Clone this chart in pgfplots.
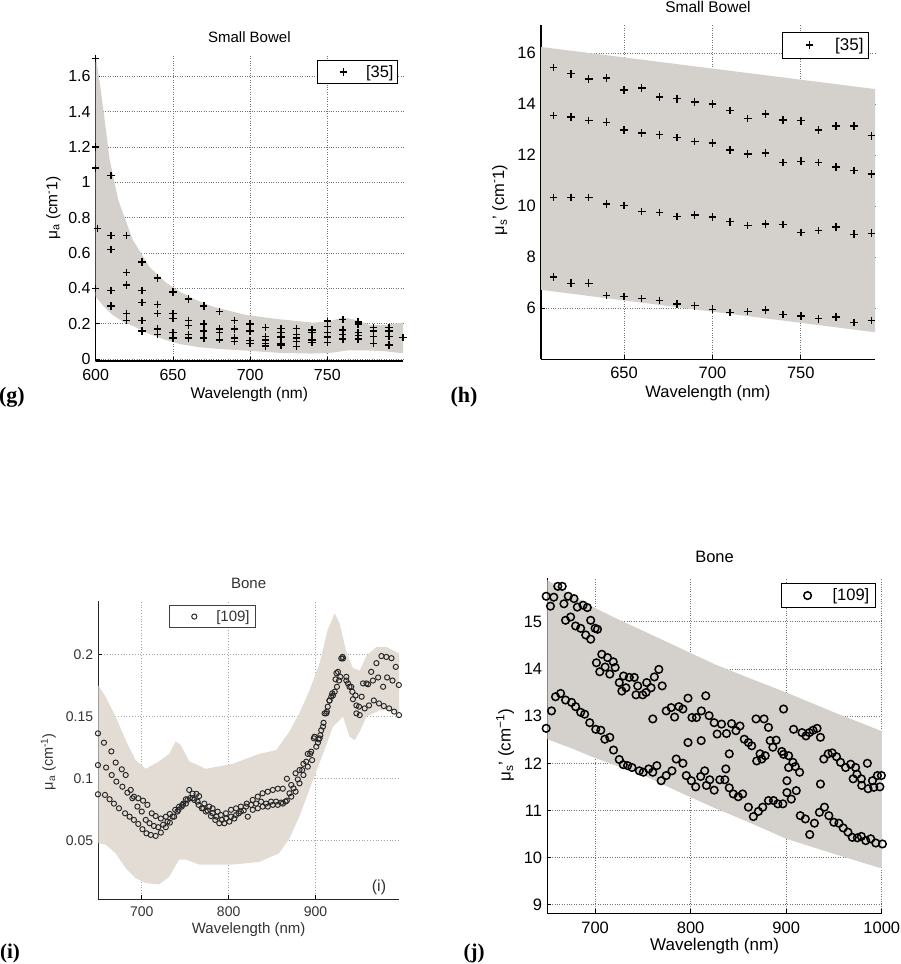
\documentclass[border=0pt]{standalone}
\usepackage{pgfplots}
\pgfplotsset{compat=1.18}
\usepackage{fontspec}
\setmainfont{Liberation Sans}
\newfontfamily\timesfont{Liberation Serif}

\definecolor{band}{RGB}{212,208,203}
\definecolor{bandi}{RGB}{226,220,213}
\newcommand\fs[1]{\fontsize{#1}{#1}\selectfont}

\pgfplotsset{
  layers/gridbelow/.define layer set={axis background,axis grid,main,axis ticks,axis lines,axis tick labels,axis descriptions,axis foreground}{},
  panel/.style={
    scale only axis, set layers=gridbelow, anchor=south west,
    axis x line*=bottom, axis y line*=left,
    axis line style={line width=1.3pt,-},
    tick align=inside, major tick length=4pt,
    tick style={black, line width=0.8pt},
    xmajorgrids, ymajorgrids,
    major grid style={dotted, line width=0.8pt, black!55},
    clip=false,
    title style={at={(axis description cs:0.5,1)}, anchor=base, inner sep=0pt, yshift=7pt},
    xlabel style={at={(axis description cs:0.5,0)}, anchor=base, inner sep=0pt},
    ylabel style={anchor=center, inner sep=0pt},
    xticklabel style={anchor=base, inner sep=0pt},
    yticklabel style={anchor=east, inner sep=0pt, xshift=-5pt},
    legend cell align=left,
    legend style={anchor=north east, draw=black, line width=1pt, fill=white,
      inner ysep=0pt, nodes={inner xsep=0pt, inner ysep=5pt}, column sep=0pt},
  },
}

\begin{document}
\begin{tikzpicture}

% ---------------- (g) small bowel, mu_a
\begin{axis}[panel, at={(95.7pt,-361pt)}, width=307.3pt, height=306pt,
  xmin=600, xmax=799, ymin=-0.01, ymax=1.72,
  xtick={600,650,700,750}, xticklabels={600,650,700,750},
  ytick={0,0.2,0.4,0.6,0.8,1,1.2,1.4,1.6},
  yticklabels={0,0.2,0.4,0.6,0.8,1,1.2,1.4,1.6},
  ticklabel style={font=\fs{16}}, xticklabel style={yshift=-19pt},
  title={Small Bowel}, title style={font=\fs{15}},
  xlabel={Wavelength (nm)}, xlabel style={font=\fs{15.5}, yshift=-37pt},
  ylabel={μ\textsubscript{a} (cm\textsuperscript{-}1)},
  ylabel style={font=\fs{15.5}, at={(axis description cs:-0.138,0.5)}},
  legend style={at={(axis description cs:0.984,0.984)}, inner xsep=4pt, font=\fs{16.5}},
  legend image code/.code={\path[draw=none] (0pt,0pt) (44.7pt,0pt);
    \draw[#1, only marks] plot coordinates {(22pt,0pt)};},
]
\addplot[fill=band, draw=none, forget plot] coordinates {
 (600,1.72) (602.8,1.55) (605,1.41) (609,1.13) (614.6,0.90) (624,0.675) (635,0.52)
 (646,0.43) (654.5,0.382) (665,0.335) (676,0.297) (697.5,0.25) (719,0.226)
 (740.6,0.207) (751,0.213) (760,0.237) (768.6,0.222) (777,0.194) (788,0.194) (799,0.207)
 (799,0.034) (786,0.046) (775,0.05) (763,0.05) (752,0.036) (740,0.032) (719,0.036)
 (697,0.049) (680,0.058) (667,0.068) (655,0.085) (645,0.11) (634,0.145) (625,0.185)
 (618,0.21) (611,0.25) (605,0.30) (600,0.354)} -- cycle;
\addplot[only marks, mark=+, mark size=3.7pt, black, line width=1.45pt] coordinates {
 (600,1.70) (600,1.20) (600,1.08) (601,0.74) (600,0.40)
 (610,1.04) (610,0.70) (610,0.62) (610,0.39) (610,0.30)
 (620,0.70) (620,0.49) (620,0.42) (620,0.26) (620,0.22)
 (630,0.55) (630,0.39) (630,0.32) (630,0.22) (630,0.16)
 (640,0.46) (640,0.31) (640,0.26) (640,0.17) (640,0.14)
 (650,0.38) (650,0.26) (650,0.23) (650,0.15) (650,0.12)
 (660,0.34) (660,0.22) (660,0.19) (660,0.14) (660,0.12)
 (670,0.30) (670,0.20) (670,0.16) (670,0.12)
 (680,0.27) (680,0.17) (680,0.15) (680,0.11)
 (690,0.22) (690,0.17) (690,0.12) (690,0.10)
 (700,0.20) (700,0.16) (700,0.105) (700,0.09)
 (710,0.18) (710,0.13) (710,0.11) (710,0.09) (710,0.075)
 (720,0.175) (720,0.15) (720,0.125) (720,0.09) (720,0.08)
 (730,0.175) (730,0.14) (730,0.12) (730,0.10) (730,0.072)
 (740,0.165) (740,0.15) (740,0.11) (740,0.096)
 (750,0.215) (750,0.185) (750,0.15) (750,0.125) (750,0.096)
 (760,0.225) (760,0.165) (760,0.14) (760,0.115)
 (770,0.21) (770,0.20) (770,0.15) (770,0.135) (770,0.115)
 (780,0.18) (780,0.16) (780,0.13) (780,0.09)
 (790,0.18) (790,0.16) (790,0.13) (790,0.08)
 (799,0.122)};
\addlegendentry{[35]}
\end{axis}

% ---------------- (h) small bowel, mu_s'
\begin{axis}[panel, at={(541pt,-359.3pt)}, width=334pt, height=334.3pt,
  xmin=603, xmax=792, ymin=4, ymax=17.1,
  xtick={650,700,750}, xticklabels={650,700,750},
  ytick={6,8,10,12,14,16}, yticklabels={6,8,10,12,14,16},
  ticklabel style={font=\fs{16.5}}, xticklabel style={yshift=-19pt},
  title={Small Bowel}, title style={font=\fs{15.5}, yshift=-0.5pt},
  xlabel={Wavelength (nm)}, xlabel style={font=\fs{16.5}, yshift=-38.3pt},
  ylabel={μ\textsubscript{s}' (cm\textsuperscript{-}1)},
  ylabel style={font=\fs{16.5}, at={(axis description cs:-0.123,0.477)}},
  legend style={at={(axis description cs:0.983,0.980)}, inner xsep=5.3pt, font=\fs{17},
    nodes={inner ysep=6pt}},
  legend image code/.code={\path[draw=none] (0pt,0pt) (47pt,0pt);
    \draw[#1, only marks] plot coordinates {(21.3pt,0pt)};},
]
\addplot[fill=band, draw=none, forget plot] coordinates {
 (603,16.24) (792,14.59) (792,5.06) (603,6.72)} -- cycle;
\addplot[only marks, mark=+, mark size=3.8pt, black, line width=1.45pt] coordinates {
 (610,15.44) (620,15.19) (630,14.99) (640,15.02) (650,14.56) (660,14.64) (670,14.27)
 (680,14.21) (690,14.08) (700,14.00) (710,13.75) (720,13.44) (730,13.62) (740,13.37)
 (750,13.35) (760,12.99) (770,13.15) (780,13.15) (790,12.76)
 (610,13.56) (620,13.49) (630,13.36) (640,13.29) (650,12.99) (660,12.86) (670,12.80)
 (680,12.69) (690,12.54) (700,12.47) (710,12.21) (720,12.04) (730,12.08) (740,11.71)
 (750,11.76) (760,11.71) (770,11.53) (780,11.40) (790,11.27)
 (610,10.34) (620,10.34) (630,10.34) (640,10.09) (650,10.03) (660,9.79) (670,9.75)
 (680,9.59) (690,9.66) (700,9.57) (710,9.39) (720,9.24) (730,9.31) (740,9.28)
 (750,8.97) (760,9.05) (770,9.18) (780,8.90) (790,8.94)
 (610,7.22) (620,6.98) (630,6.98) (640,6.50) (650,6.46) (660,6.38) (670,6.31)
 (680,6.16) (690,6.10) (700,5.96) (710,5.84) (720,5.87) (730,5.93) (740,5.76)
 (750,5.70) (760,5.59) (770,5.65) (780,5.45) (790,5.52)};
\addlegendentry{[35]}
\end{axis}

% ---------------- (i) bone, mu_a
\begin{axis}[panel, at={(98.3pt,-899.3pt)}, width=300.7pt, height=298.3pt,
  xmin=650, xmax=996, ymin=0.003, ymax=0.243,
  xtick={700,800,900}, xticklabels={700,800,900},
  ytick={0.05,0.1,0.15,0.2}, yticklabels={0.05,0.1,0.15,0.2},
  ticklabel style={font=\fs{14}, black!80}, xticklabel style={yshift=-17.4pt},
  title={Bone}, title style={font=\fs{15}, black!80},
  xlabel={Wavelength (nm)}, xlabel style={font=\fs{15}, black!80, yshift=-34pt},
  ylabel={μ\textsubscript{a} (cm\textsuperscript{-1})},
  ylabel style={font=\fs{14.5}, black!80, at={(axis description cs:-0.166,0.461)}},
  major grid style={dotted, line width=0.8pt, black!35},
  axis line style={line width=1.1pt, black!85},
  legend style={at={(axis description cs:0.525,0.987)}, inner xsep=6pt, font=\fs{15},
    draw=black!75, text=black!80},
  legend image code/.code={\path[draw=none] (0pt,0pt) (41pt,0pt);
    \draw[#1, only marks] plot coordinates {(19pt,0pt)};},
]
\addplot[fill=bandi, draw=none, forget plot] coordinates {
 (650,0.175) (658.5,0.166) (670,0.150) (681.5,0.131) (693,0.115) (704.6,0.108)
 (720,0.114) (731.5,0.120) (739,0.130) (745,0.127) (754.6,0.114) (773.8,0.108)
 (804.6,0.112) (835,0.120) (854.6,0.123) (870,0.138) (881.5,0.153) (893,0.171)
 (904.6,0.193) (914,0.220) (922,0.233) (927.7,0.225) (935,0.203) (943,0.189)
 (950.8,0.187) (958.5,0.199) (970,0.206) (981.5,0.206) (996,0.201)
 (996,0.153) (985,0.155) (973.8,0.155) (958.5,0.150) (950.8,0.138) (945,0.131)
 (939,0.134) (931.5,0.150) (920,0.142) (908.5,0.120) (897,0.099) (881.5,0.070)
 (870,0.052) (858,0.040) (835,0.033) (804.6,0.031) (781.5,0.031) (766,0.031)
 (750.8,0.035) (743,0.035) (731.5,0.021) (720,0.015) (704.6,0.016) (693,0.020)
 (681.5,0.028) (670,0.040) (658.5,0.047) (650,0.048)} -- cycle;
\addplot[only marks, mark=o, mark size=2.6pt, black!85, line width=0.95pt] coordinates {
 (649.6,0.1365) (656.5,0.129) (665,0.122) (670,0.113) (677,0.1076) (681.5,0.103)
 (687.3,0.091) (691,0.0856) (696,0.0843) (701.5,0.0824) (706.5,0.079) (711.5,0.0722)
 (716,0.070) (722,0.068) (727.7,0.0695) (732.3,0.0717) (738.5,0.075) (743,0.0776)
 (747.7,0.080) (750.8,0.0835) (754.6,0.091) (758.5,0.088) (763,0.0878) (766,0.086)
 (772,0.080) (777.7,0.0776) (781.5,0.0762) (787.3,0.0735) (791,0.0708) (796.9,0.0722)
 (802.7,0.075) (808.5,0.0762) (814,0.0776) (820.8,0.080) (827.7,0.083) (833.5,0.0856)
 (839,0.0883) (845,0.0896) (850.8,0.091) (856.5,0.092) (862.3,0.092) (867,0.100)
 (872,0.095) (877,0.1044) (881.5,0.107) (886,0.112) (891,0.120) (895,0.1218)
 (898.8,0.1338) (903.5,0.1317) (906.5,0.139) (910.4,0.1526) (914,0.158) (918,0.166)
 (922,0.170) (924,0.185) (927,0.179) (931,0.198) (935.4,0.179) (939,0.174)
 (943,0.164) (947,0.159) (953,0.166) (958.5,0.1767) (964,0.186) (970,0.193)
 (975.8,0.1987) (981.5,0.198) (987.3,0.197) (992.3,0.190)
 (649.6,0.111) (659,0.109) (665.4,0.103) (670.8,0.0977) (677.7,0.0936) (683.5,0.0888)
 (689.2,0.0843) (695,0.0776) (700,0.0736) (704.6,0.0669) (709,0.0642) (714,0.062)
 (719,0.061) (724.6,0.063) (729.6,0.0655) (735.4,0.0695) (741,0.0736) (746,0.0776)
 (750.8,0.080) (755.4,0.0843) (760.4,0.083) (765.4,0.079) (770.8,0.0762) (775.8,0.0744)
 (781.5,0.0722) (786,0.0695) (792.3,0.0669) (797,0.068) (802.7,0.0695) (808.5,0.0708)
 (814,0.0736) (820,0.0776) (825.8,0.079) (831.5,0.080) (837.3,0.0816) (843,0.080)
 (848.8,0.0816) (854.6,0.0816) (860.4,0.0808) (865.4,0.0816) (870,0.0883) (874.6,0.0923)
 (879.6,0.0995) (884.6,0.107) (889.2,0.1137) (893.8,0.120) (898,0.1325) (902.7,0.129)
 (905.4,0.135) (909.2,0.145) (913,0.154) (916,0.1628) (919.2,0.1687) (923,0.180)
 (925.8,0.186) (929.6,0.1968) (935.4,0.182) (941,0.174) (946,0.167) (950,0.158)
 (954.6,0.1767) (960.4,0.176) (966,0.179) (972,0.1815) (977.7,0.174) (982.3,0.1815)
 (988.5,0.179) (995.8,0.1754)
 (649.6,0.0875) (657.7,0.087) (663,0.0835) (668,0.080) (673.8,0.0762) (680.8,0.0722)
 (686,0.0695) (691,0.0669) (696,0.0636) (700.8,0.0594) (705.4,0.0561) (710.4,0.0548)
 (716,0.054) (722,0.0567) (727.7,0.061) (732.3,0.0647) (737.3,0.0695) (742.3,0.075)
 (747,0.079) (752.7,0.083) (758.5,0.0843) (764.2,0.0816) (769.2,0.0762) (773.8,0.0736)
 (779.6,0.070) (784.6,0.0669) (789.2,0.0642) (795,0.0642) (800.8,0.0655) (806.5,0.068)
 (811.5,0.0722) (817.3,0.0744) (822,0.0695) (827.7,0.075) (833.5,0.0762) (839.2,0.0776)
 (845,0.0776) (850.8,0.079) (856.5,0.079) (862.3,0.080) (867,0.0824) (872,0.0856)
 (877,0.0896) (881.5,0.0963) (886,0.103) (891,0.1097) (896,0.115) (900.8,0.1258)
 (904.6,0.1325) (908.5,0.1419) (912.3,0.1526) (916,0.163) (920,0.167) (924.6,0.174)
 (928.5,0.182) (931.5,0.1968) (937.3,0.1767) (942.3,0.170) (947,0.1526) (950.8,0.1512)
 (956.5,0.1566) (961.5,0.159) (967,0.163) (973,0.1606) (978.5,0.1585) (984.6,0.1566)
 (990.4,0.154) (996,0.1512)};
\addlegendentry{[109]}
\end{axis}

% ---------------- (j) bone, mu_s'
\begin{axis}[panel, at={(547.3pt,-913.3pt)}, width=334.5pt, height=335pt,
  xmin=650, xmax=1000, ymin=8.82, ymax=15.92,
  xtick={700,800,900,1000}, xticklabels={700,800,900,1000},
  ytick={9,10,11,12,13,14,15}, yticklabels={9,10,11,12,13,14,15},
  ticklabel style={font=\fs{16.5}}, xticklabel style={yshift=-20pt},
  title={Bone}, title style={font=\fs{16.5}, yshift=2.5pt},
  xlabel={Wavelength (nm)}, xlabel style={font=\fs{17}, yshift=-37.4pt},
  ylabel={μ\textsubscript{s}' (cm\textsuperscript{−1})},
  ylabel style={font=\fs{17}, at={(axis description cs:-0.126,0.502)}},
  legend style={at={(axis description cs:0.982,0.985)}, inner xsep=6pt, font=\fs{16.5}},
  legend image code/.code={\path[draw=none] (0pt,0pt) (45.3pt,0pt);
    \draw[#1, only marks] plot coordinates {(20.3pt,0pt)};},
]
\addplot[fill=band, draw=none, forget plot] coordinates {
 (650,15.88) (675,15.58) (699,15.30) (725,15.04) (751,14.80) (788,14.45) (825,14.10)
 (862,13.80) (900,13.50) (950,13.08) (1000,12.68)
 (1000,9.77) (950,10.08) (900,10.40) (862,10.74) (823,11.07) (787,11.40) (751,11.74)
 (725,11.93) (699,12.12) (675,12.32) (650,12.51)} -- cycle;
\addplot[only marks, mark=o, mark size=3.8pt, black, line width=1.5pt] coordinates {
 (648.8,12.74) (654.4,13.11) (658.6,13.41) (663.9,13.48) (669.1,13.34) (675.4,13.29)
 (679.6,13.20) (684.9,13.08) (689.1,13.04) (694.4,12.86) (700.7,12.72) (706,12.70)
 (710.2,12.51) (715.4,12.55) (719.3,12.28) (725.3,12.08) (729.5,11.97) (734,11.95)
 (738.6,11.91) (746.3,11.84) (750.5,11.81) (756.1,11.88) (760.4,11.81) (764.6,11.95)
 (769.1,11.63) (774.4,11.74) (780.4,11.84) (784.9,12.09) (791.9,12.00) (795.4,11.74)
 (800.7,11.63) (805.3,11.50) (810.5,11.72) (814.7,11.84) (816.5,11.53) (820,11.65)
 (824.6,11.43) (830.5,11.65) (835.8,11.65) (840.4,11.48) (844.6,11.35) (849.8,11.29)
 (854.4,11.35) (860.4,11.07) (865.6,10.87) (870.9,10.98) (875.4,11.07) (881.4,11.21)
 (886.7,11.21) (891.2,11.14) (896.5,11.14) (900.7,11.38) (905.3,11.24) (910.5,11.42)
 (914.7,10.89) (920,10.82) (924.6,10.49) (929.5,10.73) (934.7,10.96) (940,11.07)
 (944.6,10.89) (949.8,10.75) (955.1,10.73) (959.6,10.63) (964.6,10.54) (969.1,10.43)
 (974.4,10.42) (978.6,10.45) (983.2,10.36) (988.4,10.40) (993.7,10.31) (1000.7,10.29)
 (648.8,15.54) (653.3,15.33) (656.8,15.52) (661,15.75) (665.6,15.75) (667.4,15.38)
 (671.9,15.54) (677.9,15.49) (681.4,15.31) (687.4,15.35) (691.9,15.30) (695.4,15.03)
 (700,14.86) (701.4,14.13) (704.9,13.94) (707,14.31) (710.5,14.04) (713,14.24)
 (715.4,13.89) (719,14.15) (721,14.03) (725.3,13.71) (729.8,13.85) (732.3,13.60)
 (735.8,13.82) (741,13.82) (744.6,13.64) (749.8,13.45) (754,13.71) (758.6,13.60)
 (762,13.83) (766.7,13.99) (770.2,13.64) (774.4,13.11) (779.6,13.18) (783.2,12.98)
 (787.7,13.20) (791.9,13.15) (797.2,13.38) (801.4,12.97) (806,12.97) (811.2,13.11)
 (815.8,13.43) (819.3,13.01) (824.6,12.86) (827.7,12.62) (832.3,12.83) (837.5,12.63)
 (842.8,12.84) (847.4,12.69) (851.6,12.79) (856.1,12.51) (860.4,12.44) (868.4,12.94)
 (872.6,12.20) (876.8,12.94) (881.4,12.76) (886,12.34) (889.5,12.49) (895.4,12.25)
 (897.2,13.15) (902.5,12.16) (907.7,12.72) (909.5,11.93) (916.5,12.65) (920.7,12.58)
 (924.2,12.65) (928,12.70) (932.3,12.74) (935.8,12.55) (939.3,12.09) (943.9,12.20)
 (948.1,12.22) (952.6,12.14) (956.8,12.02) (962.1,11.91) (967.4,11.98) (972.6,11.91)
 (978.6,11.67) (984.9,12.00) (990.2,11.63) (995.4,11.74) (999.6,11.74)
 (669.1,15.03) (674.4,15.10) (679.6,14.91) (684.9,14.86) (690.2,14.72) (695.4,14.63)
 (702.5,14.84) (728,13.53) (742.8,13.45) (753.3,13.50) (760.4,12.94) (797.2,12.44)
 (811,12.48) (840.4,12.20) (836.8,11.88) (900.7,11.63) (914,11.81) (935.8,11.56)
 (863.9,12.37) (869.1,12.05) (874.4,12.09) (878,12.16) (883.2,12.48) (897.2,12.19)
 (902.5,11.91) (907,12.02) (974,11.77) (970,11.67) (979,11.53) (985.6,11.46)
 (991.6,11.49) (998,11.50)};
\addlegendentry{[109]}
\end{axis}

% panel letters
\node[font=\timesfont\bfseries\fs{22}, inner sep=0pt] at (12pt,-397pt) {(g)};
\node[font=\timesfont\bfseries\fs{22}, inner sep=0pt] at (464pt,-397pt) {(h)};
\node[font=\timesfont\bfseries\fs{21}, inner sep=0pt] at (10pt,-953pt) {(i)};
\node[font=\timesfont\bfseries\fs{21}, inner sep=0pt] at (474pt,-953pt) {(j)};
\node[font=\fs{16}, text=black!80, inner sep=0pt] at (379pt,-887pt) {(i)};

\pgfresetboundingbox
\path[use as bounding box] (0pt,0pt) rectangle (900pt,-964pt);
\end{tikzpicture}
\end{document}
